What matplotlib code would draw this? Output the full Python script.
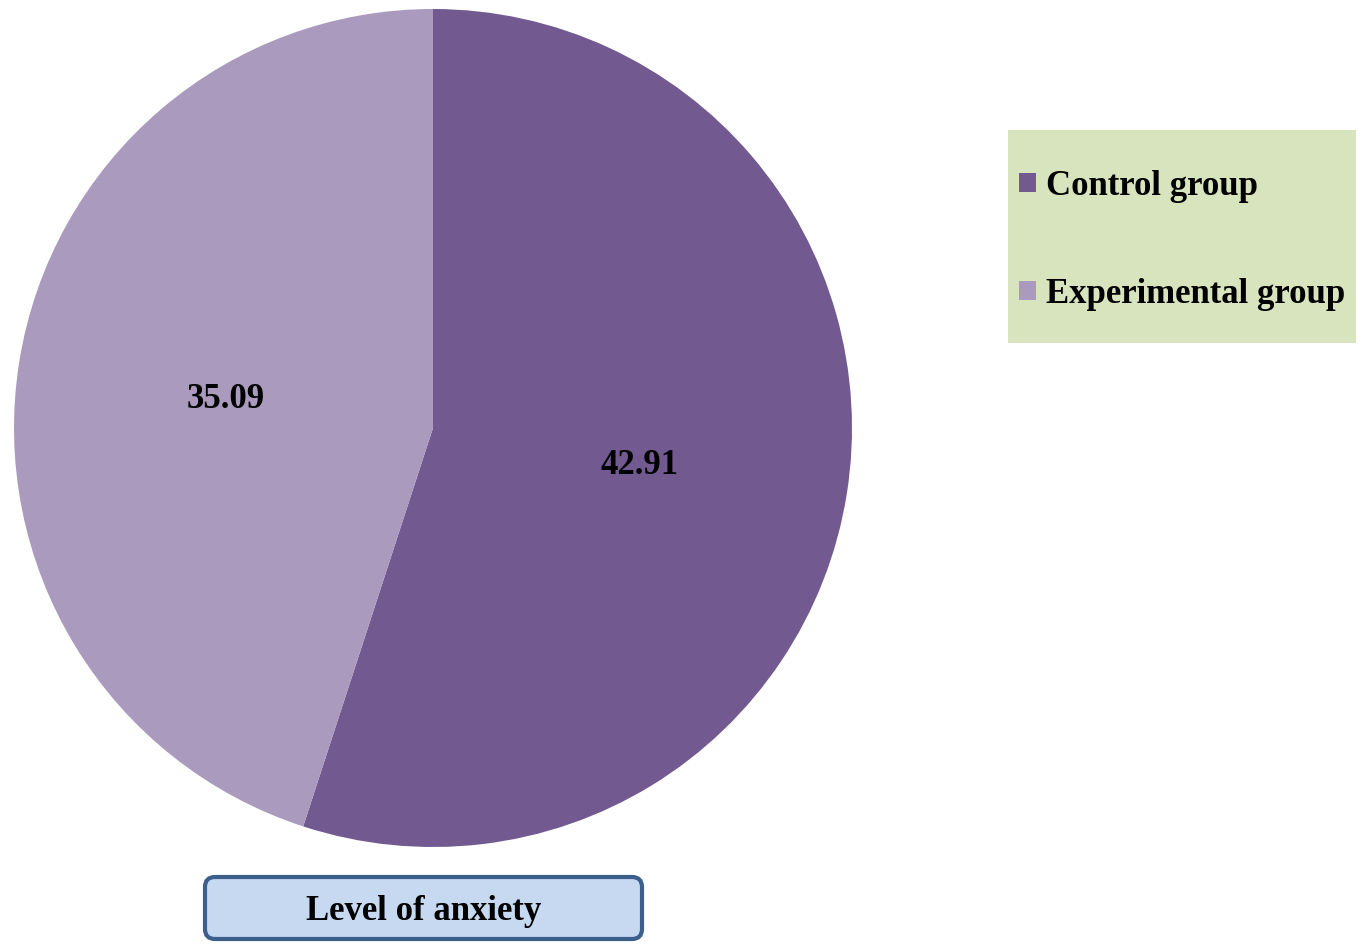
import matplotlib.pyplot as plt
from matplotlib.patches import Rectangle, FancyBboxPatch
from matplotlib.transforms import IdentityTransform

groups = ['Control group', 'Experimental group']
anxiety = [42.91, 35.09]
colors = ['#725990', '#A99ABE']
title = 'Level of anxiety'

plt.rcParams['font.family'] = ['Liberation Serif', 'DejaVu Serif']
plt.rcParams['font.weight'] = 'bold'

fig = plt.figure(figsize=(13.63, 9.48), dpi=100)
ax = fig.add_axes([14 / 1363, 101 / 948, 838 / 1363, 838 / 948])

total = sum(anxiety)
wedges, texts, autotexts = ax.pie(
    anxiety, colors=colors, startangle=90, counterclock=False,
    autopct=lambda p: f'{p * total / 100:.2f}', pctdistance=0.5,
    wedgeprops=dict(linewidth=0),
    textprops=dict(fontsize=25, fontweight='bold', color='black'))
# nudge value labels down a touch
for t in autotexts:
    x, y = t.get_position()
    t.set_position((x, y - 0.01))
ax.set_xlim(-1, 1)
ax.set_ylim(-1, 1)

# legend panel
fig.patches.append(Rectangle((1008 / 1363, 1 - 343 / 948), 348 / 1363, 213 / 948,
                             transform=fig.transFigure, facecolor='#D7E4BD',
                             edgecolor='none', zorder=0))
fig.legend(wedges, groups, loc='upper left', bbox_to_anchor=(1019 / 1363, 1 - 170 / 948),
           frameon=False, fontsize=25, handlelength=0.49, handleheight=0.49,
           handletextpad=0.28, labelspacing=2.16, borderpad=0, borderaxespad=0)

# title box under the pie
fig.patches.append(FancyBboxPatch((205, 9), 437, 62, boxstyle='round,pad=0,rounding_size=10',
                                  transform=IdentityTransform(), facecolor='#C6D9F1',
                                  edgecolor='#3D5F8C', linewidth=3))
fig.text(423.5 / 1363, 1 - 911 / 948, title, ha='center', va='center',
         fontsize=25, fontweight='bold')

fig.savefig('out.png', dpi=100)
